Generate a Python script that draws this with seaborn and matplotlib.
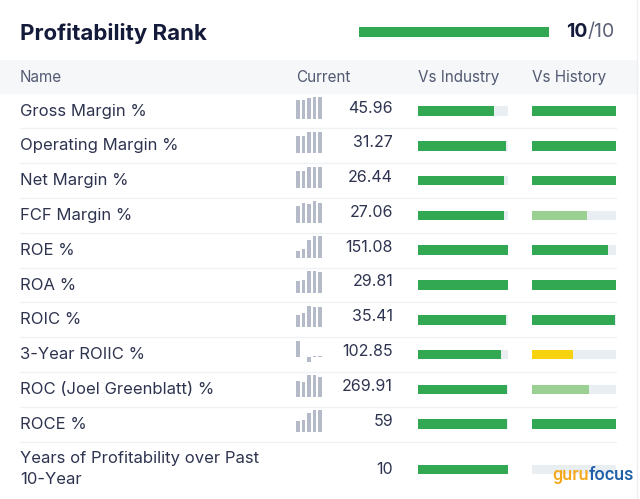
import numpy as np
import pandas as pd
import matplotlib
matplotlib.use('Agg')
import matplotlib.pyplot as plt
import seaborn as sns

# data
names = ['Gross Margin %', 'Operating Margin %', 'Net Margin %', 'FCF Margin %', 'ROE %',
         'ROA %', 'ROIC %', '3-Year ROIIC %', 'ROC (Joel Greenblatt) %', 'ROCE %',
         'Years of Profitability over Past\n10-Year']
current = ['45.96', '31.27', '26.44', '27.06', '151.08', '29.81', '35.41', '102.85',
           '269.91', '59', '10']
vs_industry = [0.84, 0.975, 0.96, 0.96, 1.0, 1.0, 0.975, 0.92, 0.99, 0.99, 1.0]
vs_history = [1.0, 1.0, 1.0, 0.66, 0.90, 1.0, 0.99, 0.49, 0.68, 1.0, 0.0]
spark = [
    [0.86, 0.86, 0.95, 1.0, 1.0],
    [0.80, 0.80, 1.0, 1.0, 1.0],
    [0.80, 0.80, 1.0, 0.97, 0.97],
    [0.78, 0.94, 0.88, 1.0, 0.91],
    [0.31, 0.42, 0.84, 1.0, 0.99],
    [0.52, 0.59, 1.0, 1.0, 0.94],
    [0.56, 0.68, 1.0, 0.95, 0.95],
    [1.0, 0.0, -0.32, 0.05, 0.05],
    [0.74, 0.71, 1.0, 1.0, 0.92],
    [0.50, 0.56, 0.87, 1.0, 1.0],
    None,
]
rank_score = 10
rank_max = 10

# style
sns.set_theme(style='white')
plt.rcParams['font.family'] = ['Inter', 'DejaVu Sans']

GREEN = '#32a852'
LIGHT_GREEN = '#9bd093'
YELLOW = '#f7d30f'
BAR_BG = '#e9eef3'
SPARK = '#b4bac7'
TEXT = '#2e3450'
HEAD = '#525a72'
TITLE = '#141a3a'

def hist_color(v):
    if v >= 0.8:
        return GREEN
    if v >= 0.6:
        return LIGHT_GREEN
    return YELLOW

W, H = 640, 499
fig = plt.figure(figsize=(W / 100, H / 100), dpi=100)
fig.patch.set_facecolor('white')
ax = fig.add_axes([0, 0, 1, 1])
ax.set_xlim(0, W)
ax.set_ylim(H, 0)
ax.axis('off')

# row layout
row_y = [111 + 34.8 * i for i in range(10)] + [469.5]

# title + rank
ax.text(20, 33, 'Profitability Rank', fontsize=16, fontweight='bold', color=TITLE, va='center')
ax_rank = fig.add_axes([359 / W, 0, 190 / W, 1])
ax_rank.set_xlim(0, rank_max)
ax_rank.set_ylim(H, 0)
ax_rank.axis('off')
ax_rank.barh([32], [rank_score], height=10, color=GREEN, lw=0)
t1 = ax.text(566, 32, str(rank_score), fontsize=14, fontweight='bold', color=TITLE, va='center')
ax.annotate('/' + str(rank_max), xy=(1, 0), xycoords=t1, fontsize=14, color='#5b6178', va='bottom')

# header band
ax.axhspan(60, 93.5, xmin=0, xmax=637 / W, color='#f6f7f9', lw=0)
for x, lab in [(20, 'Name'), (296, 'Current'), (418, 'Vs Industry'), (532, 'Vs History')]:
    ax.text(x, 77, lab, fontsize=11, color=HEAD, va='center')

# card edge
ax.axvline(636.5, color='#eceef1', lw=1)

# rows
for i, (nm, cur) in enumerate(zip(names, current)):
    y = row_y[i]
    ax.text(20, y, nm, fontsize=12, color=TEXT, va='center', linespacing=1.5)
    dy = -3 if spark[i] is not None else 0
    ax.text(393, y + dy, cur, fontsize=11.5, color=TEXT, va='center', ha='right')
    if i < 10:
        ax.plot([20, 616], [y + 17.4, y + 17.4], color='#eff1f4', lw=1)

# vs industry / vs history bars
for x0, w, vals, colfn in [(418, 90, vs_industry, lambda v: GREEN),
                           (532, 84, vs_history, hist_color)]:
    bax = fig.add_axes([x0 / W, 0, w / W, 1])
    bax.set_xlim(0, 1)
    bax.set_ylim(H, 0)
    bax.axis('off')
    bax.barh(row_y, [1.0] * len(vals), height=9.5, color=BAR_BG, lw=0)
    bax.barh(row_y, vals, height=9.5, color=[colfn(v) for v in vals], lw=0)

# sparklines
for i, vals in enumerate(spark):
    if vals is None:
        continue
    y = row_y[i]
    top, bot = y - 14, y + 7.5
    sax = fig.add_axes([295 / W, 1 - bot / H, 28 / W, (bot - top) / H])
    df = pd.DataFrame({'k': range(5), 'v': vals})
    sns.barplot(data=df, x='k', y='v', color=SPARK, saturation=1, width=0.64,
                linewidth=0, ax=sax)
    sax.set_xlim(-0.5, 4.5)
    sax.set_ylim(min(0, min(vals)), max(vals))
    sax.axis('off')

# logo on top
lax = fig.add_axes([0, 0, 1, 1], zorder=10)
lax.set_xlim(0, W)
lax.set_ylim(H, 0)
lax.axis('off')
g = lax.text(552, 475, 'guru', fontsize=13, color='#f6a81c', va='center',
             family=['Roboto', 'DejaVu Sans'], fontweight='medium')
lax.annotate('focus', xy=(1, 0), xycoords=g, fontsize=13, color='#1f5fa8', va='bottom',
             family=['Roboto', 'DejaVu Sans'], fontweight='medium')

fig.savefig('out.png', dpi=100)
